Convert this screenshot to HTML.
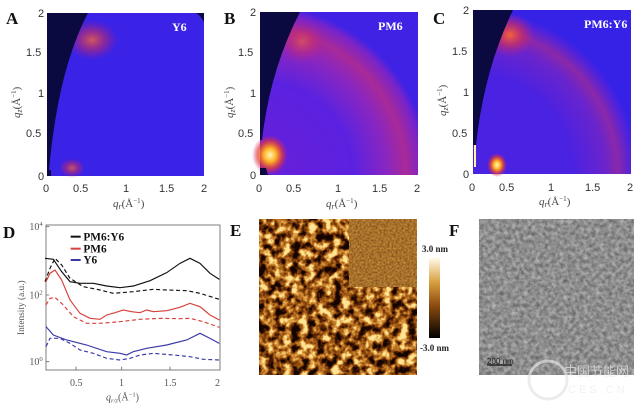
<!DOCTYPE html>
<html><head><meta charset="utf-8"><style>
html,body{margin:0;padding:0;background:#fff;width:640px;height:404px;overflow:hidden}
svg{display:block}
.t{font-family:"Liberation Sans",sans-serif;font-size:11px;fill:#333}
.L{font-family:"Liberation Serif",serif;font-weight:bold;font-size:17px;fill:#111}
.ax{font-family:"Liberation Serif",serif;font-style:italic;font-size:11px;fill:#444}
</style></head><body>
<svg width="640" height="404" viewBox="0 0 640 404" xmlns="http://www.w3.org/2000/svg">
<defs>
<radialGradient id="ringB" gradientUnits="userSpaceOnUse" cx="260" cy="175" r="170">
<stop offset="0" stop-color="#6a1ed8"/><stop offset="0.55" stop-color="#5a22e0"/>
<stop offset="0.75" stop-color="#8a26c0"/><stop offset="0.86" stop-color="#a82a98"/>
<stop offset="0.95" stop-color="#7a24c8"/><stop offset="1" stop-color="#4022e4"/>
</radialGradient>
<radialGradient id="ringC" gradientUnits="userSpaceOnUse" cx="473" cy="174" r="165">
<stop offset="0" stop-color="#4a22e2"/><stop offset="0.6" stop-color="#4a22e2"/>
<stop offset="0.8" stop-color="#6a24cc"/><stop offset="0.88" stop-color="#8a28aa"/>
<stop offset="0.96" stop-color="#5022dc"/><stop offset="1" stop-color="#3622e6"/>
</radialGradient>
<radialGradient id="hot" cx="0.5" cy="0.5" r="0.5">
<stop offset="0" stop-color="#ff6a30" stop-opacity="0.9"/><stop offset="0.5" stop-color="#e0304a" stop-opacity="0.55"/><stop offset="1" stop-color="#c02080" stop-opacity="0"/>
</radialGradient>
<radialGradient id="hotY" cx="0.5" cy="0.5" r="0.5">
<stop offset="0" stop-color="#fff8c0"/><stop offset="0.35" stop-color="#ffb020"/><stop offset="0.7" stop-color="#e83a30" stop-opacity="0.7"/><stop offset="1" stop-color="#c02080" stop-opacity="0"/>
</radialGradient>
<filter id="afm" x="0" y="0" width="1" height="1" color-interpolation-filters="sRGB">
<feTurbulence type="fractalNoise" baseFrequency="0.12" numOctaves="3" seed="4"/>
<feColorMatrix type="matrix" values="2.6 0 0 0 -0.8  2.6 0 0 0 -0.8  2.6 0 0 0 -0.8  0 0 0 0 1"/>
<feComponentTransfer>
<feFuncR type="table" tableValues="0.08 0.35 0.62 0.85 1"/>
<feFuncG type="table" tableValues="0.02 0.14 0.34 0.58 0.9"/>
<feFuncB type="table" tableValues="0 0.02 0.07 0.22 0.58"/>
</feComponentTransfer>
</filter>
<filter id="afm2" x="0" y="0" width="1" height="1" color-interpolation-filters="sRGB">
<feTurbulence type="fractalNoise" baseFrequency="0.5" numOctaves="2" seed="2"/>
<feColorMatrix type="matrix" values="0.5 0 0 0 0.4  0.38 0 0 0 0.25  0.2 0 0 0 0.07  0 0 0 0 1"/>
</filter>
<filter id="tem" x="0" y="0" width="1" height="1" color-interpolation-filters="sRGB">
<feTurbulence type="fractalNoise" baseFrequency="0.25" numOctaves="3" seed="7"/>
<feColorMatrix type="matrix" values="0.45 0 0 0 0.33  0.45 0 0 0 0.33  0.45 0 0 0 0.33  0 0 0 0 1"/>
</filter>
<linearGradient id="cbar" x1="0" y1="0" x2="0" y2="1">
<stop offset="0" stop-color="#fffbe8"/><stop offset="0.3" stop-color="#d8a040"/><stop offset="0.6" stop-color="#8a4a10"/><stop offset="1" stop-color="#000"/>
</linearGradient>
</defs>

<!-- Panel A -->
<text class="L" x="6" y="24">A</text>
<rect x="47" y="13" width="157" height="163" fill="#3a22e6"/>
<ellipse cx="92" cy="40" rx="26" ry="20" fill="url(#hot)" opacity="0.85"/>
<ellipse cx="72" cy="168" rx="13" ry="10" fill="url(#hot)" opacity="0.8"/>
<path d="M47,13 L88,13 Q58,70 49,170 L47,170 Z" fill="#0a0a40"/>
<path d="M196,13 L204,13 L204,22 Q200,15 196,13Z" fill="#0a0a40"/>
<rect x="47" y="170" width="4" height="6" fill="#0a0a40"/>
<text x="172" y="31" style="font:bold 12px 'Liberation Serif',serif;fill:#fff">Y6</text>

<!-- Panel B -->
<text class="L" x="224" y="24">B</text>
<rect x="260" y="12" width="158" height="163" fill="url(#ringB)"/>
<ellipse cx="302" cy="42" rx="24" ry="22" fill="url(#hot)" opacity="0.6"/>
<ellipse cx="270" cy="155" rx="18" ry="20" fill="url(#hotY)"/>
<path d="M260,12 L300,12 Q270,70 262,140 L260,140 Z" fill="#0a0a40"/>
<path d="M260,168 L266,168 L268,175 L260,175Z" fill="#0a0a40"/>
<text x="378" y="30" style="font:bold 12px 'Liberation Serif',serif;fill:#fff">PM6</text>

<!-- Panel C -->
<text class="L" x="433" y="24">C</text>
<rect x="473" y="10" width="158" height="164" fill="url(#ringC)"/>
<ellipse cx="510" cy="35" rx="25" ry="22" fill="url(#hot)"/>
<ellipse cx="497" cy="165" rx="10" ry="12" fill="url(#hotY)"/>
<path d="M473,10 L513,10 Q484,70 476,145 L473,145 Z" fill="#0a0a40"/>
<rect x="474" y="145" width="2" height="22" fill="#fff2a0"/>
<text x="584" y="28" style="font:bold 12px 'Liberation Serif',serif;fill:#fff">PM6:Y6</text>

<!-- GIWAXS axes labels -->
<g class="t">
<text x="38" y="17">2</text><text x="26" y="56">1.5</text><text x="38" y="97">1</text><text x="26" y="137">0.5</text><text x="38" y="180">0</text>
<text x="43" y="192">0</text><text x="73" y="192">0.5</text><text x="123" y="192">1</text><text x="159" y="192">1.5</text><text x="201" y="192">2</text>
<text x="250" y="16">2</text><text x="238" y="56">1.5</text><text x="250" y="97">1</text><text x="238" y="137">0.5</text><text x="250" y="179">0</text>
<text x="256" y="192">0</text><text x="286" y="192">0.5</text><text x="335" y="192">1</text><text x="372" y="192">1.5</text><text x="414" y="192">2</text>
<text x="463" y="14">2</text><text x="452" y="55">1.5</text><text x="463" y="96">1</text><text x="452" y="137">0.5</text><text x="463" y="178">0</text>
<text x="469" y="191">0</text><text x="499" y="191">0.5</text><text x="548" y="191">1</text><text x="585" y="191">1.5</text><text x="627" y="191">2</text>
</g>
<g class="ax">
<text x="113" y="207">q<tspan font-size="8" dy="2">r</tspan><tspan dy="-2" font-style="normal">(Å</tspan><tspan font-size="7" dy="-4" font-style="normal">−1</tspan><tspan dy="4" font-style="normal">)</tspan></text>
<text x="326" y="207">q<tspan font-size="8" dy="2">r</tspan><tspan dy="-2" font-style="normal">(Å</tspan><tspan font-size="7" dy="-4" font-style="normal">−1</tspan><tspan dy="4" font-style="normal">)</tspan></text>
<text x="539" y="205">q<tspan font-size="8" dy="2">r</tspan><tspan dy="-2" font-style="normal">(Å</tspan><tspan font-size="7" dy="-4" font-style="normal">−1</tspan><tspan dy="4" font-style="normal">)</tspan></text>
<text transform="translate(20,118) rotate(-90)">q<tspan font-size="8" dy="2">z</tspan><tspan dy="-2" font-style="normal">(Å</tspan><tspan font-size="7" dy="-4" font-style="normal">−1</tspan><tspan dy="4" font-style="normal">)</tspan></text>
<text transform="translate(233,118) rotate(-90)">q<tspan font-size="8" dy="2">z</tspan><tspan dy="-2" font-style="normal">(Å</tspan><tspan font-size="7" dy="-4" font-style="normal">−1</tspan><tspan dy="4" font-style="normal">)</tspan></text>
<text transform="translate(446,116) rotate(-90)">q<tspan font-size="8" dy="2">z</tspan><tspan dy="-2" font-style="normal">(Å</tspan><tspan font-size="7" dy="-4" font-style="normal">−1</tspan><tspan dy="4" font-style="normal">)</tspan></text>
</g>

<!-- Panel D -->
<text class="L" x="3" y="238">D</text>
<g transform="translate(0,210) scale(0.33333)" fill="none" stroke-width="3.5">
<rect x="138" y="45" width="522" height="435" stroke="#666" stroke-width="2.5"/>
<g stroke="#666" stroke-width="2.5">
<path d="M228,480v-10M365,480v-10M510,480v-10M138,255h10M138,455h10M138,50h10"/>
</g>
<polyline stroke="#111" points="135,145 160,148 185,185 210,215 240,220 280,220 320,228 360,233 400,228 450,212 500,188 540,160 570,145 600,160 630,190 658,208"/>
<polyline stroke="#111" stroke-dasharray="12,8" points="135,215 150,175 165,145 185,165 210,205 250,230 300,240 340,250 400,245 460,238 500,240 560,242 600,250 658,268"/>
<polyline stroke="#d8403c" points="138,215 150,190 165,180 185,210 210,270 240,310 270,325 300,328 320,315 345,308 370,300 395,305 420,308 440,300 460,305 500,302 540,292 570,280 600,290 630,315 658,330"/>
<polyline stroke="#d8403c" stroke-dasharray="12,8" points="138,285 150,265 165,262 190,285 220,320 260,340 300,340 360,335 420,328 480,325 540,326 570,325 610,335 658,352"/>
<polyline stroke="#3a3aa8" points="138,350 160,375 200,390 260,405 320,425 360,430 380,435 400,425 440,415 500,405 560,390 600,370 630,385 658,400"/>
<polyline stroke="#3a3aa8" stroke-dasharray="12,8" points="138,410 150,385 180,385 210,400 240,420 280,430 320,445 360,450 390,445 420,435 460,430 520,435 570,440 610,448 658,450"/>
<path d="M212,80h30" stroke="#111" stroke-width="6"/><path d="M212,116h30" stroke="#d8403c" stroke-width="6"/><path d="M212,150h30" stroke="#3a3aa8" stroke-width="6"/>
<g fill="#111" stroke="none" style="font:bold 34px 'Liberation Serif',serif">
<text x="250" y="92">PM6:Y6</text><text x="250" y="127">PM6</text><text x="250" y="161">Y6</text>
</g>
<g fill="#555" stroke="none" style="font:30px 'Liberation Serif',serif">
<text x="88" y="60">10<tspan font-size="20" dy="-12">4</tspan></text>
<text x="88" y="265">10<tspan font-size="20" dy="-12">2</tspan></text>
<text x="88" y="465">10<tspan font-size="20" dy="-12">0</tspan></text>
<text x="210" y="528">0.5</text><text x="357" y="528">1</text><text x="492" y="528">1.5</text><text x="645" y="528">2</text>
<text transform="translate(72,375) rotate(-90)" font-size="28">Intensity (a.u.)</text>
<text x="318" y="572" font-style="italic">q<tspan font-size="20" dy="6">r/z</tspan><tspan dy="-6" font-style="normal">(Å</tspan><tspan font-size="20" dy="-12" font-style="normal">−1</tspan><tspan dy="12" font-style="normal">)</tspan></text>
</g>
</g>

<!-- Panel E -->
<text class="L" x="230" y="236">E</text>
<rect x="259" y="219" width="158" height="156" filter="url(#afm)"/>
<rect x="349" y="219" width="68" height="68" filter="url(#afm2)"/>
<text x="422" y="252" style="font:bold 9px 'Liberation Serif',serif;fill:#222">3.0 nm</text>
<rect x="429" y="258" width="11" height="80" fill="url(#cbar)"/>
<text x="420" y="351" style="font:bold 9px 'Liberation Serif',serif;fill:#222">-3.0 nm</text>

<!-- Panel F -->
<text class="L" x="449" y="236">F</text>
<rect x="479" y="219" width="155" height="156" filter="url(#tem)"/>
<path d="M487,365h25" stroke="#111" stroke-width="1.2"/>
<text x="487" y="364" style="font:8px 'Liberation Sans',sans-serif;fill:#222">200 nm</text>

<!-- watermark -->
<g opacity="0.7">
<circle cx="548" cy="380" r="19" fill="none" stroke="#e4e4e4" stroke-width="3"/>
<text x="564" y="376" style="font:13px 'Liberation Sans','Noto Sans CJK SC',sans-serif;fill:#ececec">中国节能网</text>
<text x="568" y="393" style="font:11px 'Liberation Sans',sans-serif;fill:#ececec;letter-spacing:3px">CES.CN</text>
</g>
</svg>
</body></html>
